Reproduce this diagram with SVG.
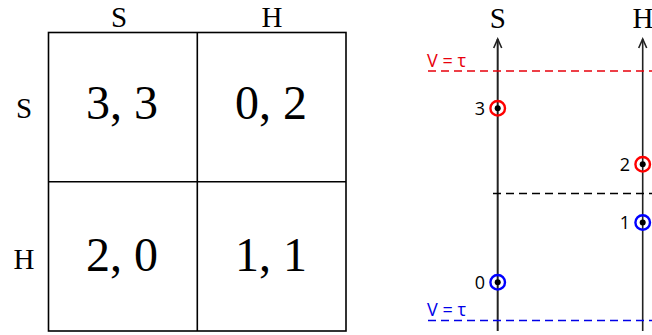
<svg xmlns="http://www.w3.org/2000/svg" width="652" height="335" viewBox="0 0 652 335">
<style>
.serif{font-family:"Liberation Serif","DejaVu Serif",serif;fill:#000}
.hdr{font-size:29px}
.pay{font-size:48px}
.sans{font-family:"Open Sans","Liberation Sans",sans-serif;font-size:18px}
.grid{fill:none;stroke:#000;stroke-width:1.6}
.axis{stroke:#222;stroke-width:2;fill:none}
.dash{stroke-width:1.5;stroke-dasharray:8 5;fill:none}
.pt{fill:none;stroke-width:2.4}
</style>
<defs>
<marker id="arr" markerWidth="12" markerHeight="12" refX="10" refY="5" orient="auto" markerUnits="userSpaceOnUse" viewBox="0 0 12 10">
<path d="M1,1 L10,5 L1,9" fill="none" stroke="#222" stroke-width="1.6"/>
</marker>
</defs>
<g id="matrix">
<rect class="grid" x="48.5" y="32.5" width="297.5" height="298.5"/>
<line class="grid" x1="197.3" y1="32.5" x2="197.3" y2="331"/>
<line class="grid" x1="48.5" y1="181.7" x2="346" y2="181.7"/>
<text class="serif hdr" x="119" y="27" text-anchor="middle">S</text>
<text class="serif hdr" x="272" y="27" text-anchor="middle">H</text>
<text class="serif hdr" x="24" y="118" text-anchor="middle">S</text>
<text class="serif hdr" x="24" y="269" text-anchor="middle">H</text>
<text class="serif pay" x="122" y="119" text-anchor="middle">3, 3</text>
<text class="serif pay" x="271" y="119" text-anchor="middle">0, 2</text>
<text class="serif pay" x="122" y="271" text-anchor="middle">2, 0</text>
<text class="serif pay" x="271" y="271" text-anchor="middle">1, 1</text>
</g>
<g id="connectors">
<line class="axis" x1="497.7" y1="331" x2="497.7" y2="39" marker-end="url(#arr)"/>
<line class="axis" x1="642.7" y1="331" x2="642.7" y2="39" marker-end="url(#arr)" style="stroke-width:1.6"/>
<line class="dash" stroke="#e8000b" x1="428" y1="71" x2="652" y2="71"/>
<line class="dash" stroke="#000" x1="493" y1="193.5" x2="652" y2="193.5"/>
<line class="dash" stroke="#0000e8" x1="428" y1="320.5" x2="652" y2="320.5"/>
</g>
<g id="labels">
<text class="serif hdr" x="497.7" y="28" text-anchor="middle">S</text>
<text class="serif hdr" x="643" y="28" text-anchor="middle">H</text>
<text class="sans" x="427" y="67" fill="#e8000b">V = τ</text>
<text class="sans" x="427" y="316" fill="#0000e8">V = τ</text>
</g>
<g id="p3">
<circle class="pt" cx="497.7" cy="108.3" r="7.3" stroke="#ff0000"/>
<circle cx="497.7" cy="108.3" r="3" fill="#000"/>
<text class="sans" x="485" y="114.8" text-anchor="end">3</text>
</g>
<g id="p2">
<circle class="pt" cx="642.7" cy="164.3" r="7.3" stroke="#ff0000"/>
<circle cx="642.7" cy="164.3" r="3" fill="#000"/>
<text class="sans" x="630" y="170.8" text-anchor="end">2</text>
</g>
<g id="p1">
<circle class="pt" cx="642.7" cy="222.5" r="7.3" stroke="#0000ff"/>
<circle cx="642.7" cy="222.5" r="3" fill="#000"/>
<text class="sans" x="630" y="229" text-anchor="end">1</text>
</g>
<g id="p0">
<circle class="pt" cx="497.7" cy="282.3" r="7.3" stroke="#0000ff"/>
<circle cx="497.7" cy="282.3" r="3" fill="#000"/>
<text class="sans" x="485" y="288.8" text-anchor="end">0</text>
</g>
</svg>
